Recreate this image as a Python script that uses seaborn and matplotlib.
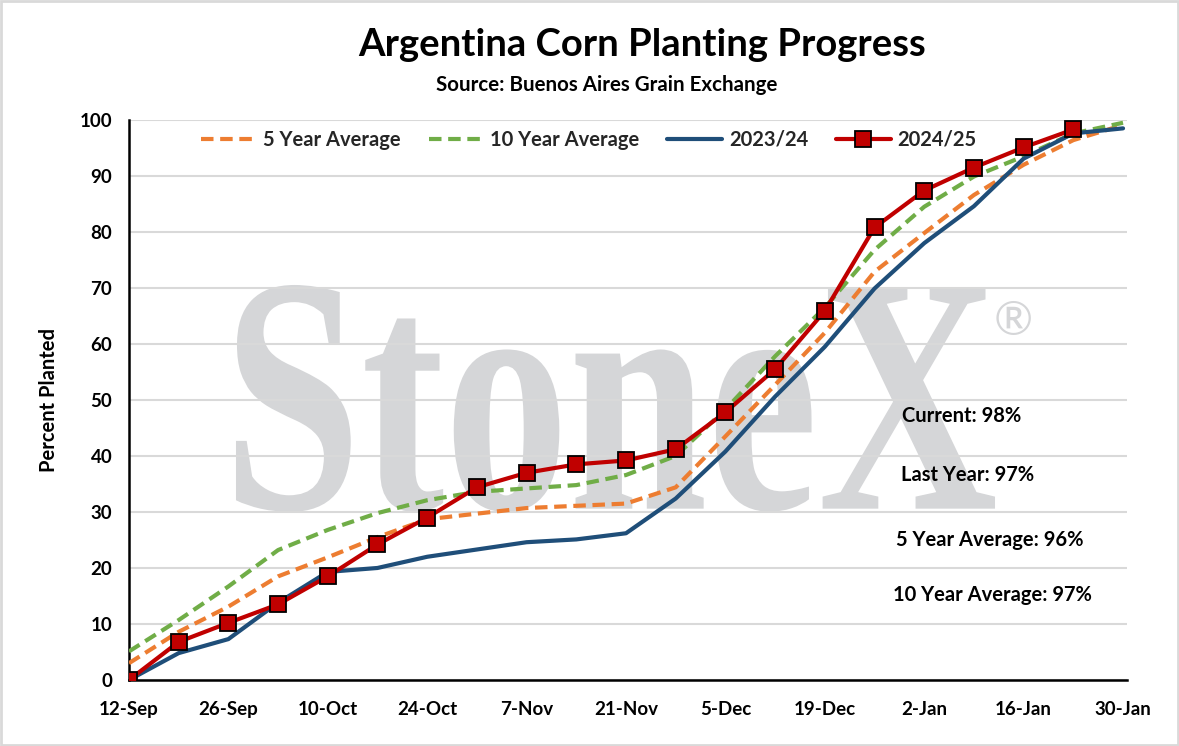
import matplotlib
matplotlib.use("Agg")
import matplotlib.pyplot as plt
import seaborn as sns
import pandas as pd
from matplotlib.textpath import TextPath
from matplotlib.patches import PathPatch, Rectangle
from matplotlib.font_manager import FontProperties
from matplotlib.transforms import Affine2D

# weekly dates, 12-Sep to 30-Jan
dates = ["12-Sep", "19-Sep", "26-Sep", "3-Oct", "10-Oct", "17-Oct", "24-Oct",
         "31-Oct", "7-Nov", "14-Nov", "21-Nov", "28-Nov", "5-Dec", "12-Dec",
         "19-Dec", "26-Dec", "2-Jan", "9-Jan", "16-Jan", "23-Jan", "30-Jan"]

avg_5yr = [3.0, 8.6, 13.1, 18.5, 21.9, 25.5, 28.7, 29.7, 30.7, 31.1, 31.5,
           34.4, 43.5, 52.7, 62.0, 72.9, 79.8, 86.6, 92.0, 96.4, 99.1]
avg_10yr = [5.1, 10.7, 16.7, 23.2, 26.8, 29.8, 32.1, 33.6, 34.2, 34.8, 36.6,
            40.0, 48.3, 57.8, 66.5, 76.8, 84.5, 89.9, 93.5, 97.6, 99.5]
season_2324 = [0.0, 4.8, 7.3, 13.8, 19.3, 20.0, 22.0, 23.3, 24.6, 25.1, 26.2,
               32.4, 40.8, 50.6, 59.5, 69.9, 78.0, 84.6, 93.1, 97.6, 98.5]
season_2425 = [0.0, 6.8, 10.2, 13.5, 18.5, 24.2, 29.0, 34.4, 37.0, 38.5, 39.2,
               41.2, 47.8, 55.5, 65.9, 80.8, 87.4, 91.5, 95.1, 98.3]

notes = ["Current: 98%", "Last Year: 97%", "5 Year Average: 96%", "10 Year Average: 97%"]

week = list(range(len(dates)))

sns.set_style("whitegrid")
plt.rcParams["font.family"] = ["Lato", "DejaVu Sans"]
plt.rcParams["font.weight"] = "bold"

fig = plt.figure(figsize=(11.79, 7.46), dpi=100)
ax = fig.add_axes([0.1094, 0.0885, 0.8465, 0.7507])

# watermark
tp = TextPath((0, 0), "StoneX", size=100, prop=FontProperties(family="Liberation Serif"))
bb = tp.get_extents()
x0, x1 = (236 - 129) / 998, (995 - 129) / 998
y0, y1 = (680 - 512) / 560, (680 - 285) / 560
tr = Affine2D().translate(-bb.x0, -bb.y0).scale((x1 - x0) / bb.width, (y1 - y0) / bb.height).translate(x0, y0)
ax.add_patch(PathPatch(tr.transform_path(tp), transform=ax.transAxes,
                       facecolor="#d5d6d8", edgecolor="none", zorder=0.1))
ax.text(0.886, 0.639, "®", transform=ax.transAxes, fontsize=34, color="#d5d6d8",
        fontweight="normal", ha="center", va="center", zorder=0.1)

sns.lineplot(x=week, y=avg_5yr, ax=ax, color="#ED7D31", lw=3, linestyle=(0, (3, 1.6)),
             label="5 Year Average", zorder=3)
sns.lineplot(x=week, y=avg_10yr, ax=ax, color="#70AD47", lw=3, linestyle=(0, (3, 1.6)),
             label="10 Year Average", zorder=3)
sns.lineplot(x=week, y=season_2324, ax=ax, color="#1F4E79", lw=3,
             label="2023/24", zorder=4)
sns.lineplot(x=week[:len(season_2425)], y=season_2425, ax=ax, color="#C00000", lw=3,
             marker="s", markersize=11, markerfacecolor="#C00000",
             markeredgecolor="black", markeredgewidth=1.3,
             label="2024/25", zorder=5)

ax.set_xlim(0, 20.08)
ax.set_ylim(0, 100)
ax.set_xticks(week[::2])
ax.set_xticklabels(dates[::2])
ax.set_yticks(range(0, 101, 10))
ax.tick_params(axis="both", direction="out", length=5, width=1.5, color="black",
               labelsize=13.5, labelcolor="black")
ax.tick_params(axis="x", pad=10)
ax.tick_params(axis="y", pad=7)
for lab in ax.get_xticklabels() + ax.get_yticklabels():
    lab.set_fontweight("bold")

ax.grid(axis="x", visible=False)
ax.grid(axis="y", color="#d9d9d9", lw=1.5)
for s in ["top", "right"]:
    ax.spines[s].set_visible(False)
for s in ["left", "bottom"]:
    ax.spines[s].set_color("black")
    ax.spines[s].set_linewidth(1.8)

ax.set_xlabel("")
ax.set_ylabel("Percent Planted", fontsize=14.5, fontweight="bold", color="black", labelpad=15)

ax.legend(loc="upper center", bbox_to_anchor=(0.461, 1.015), ncol=4, frameon=False,
          handlelength=2.7, columnspacing=1.4, handletextpad=0.35,
          prop={"weight": "bold", "size": 14.5})

note_pos = [(962, 416), (968, 475), (990, 540), (992, 595)]
for txt, (px, py) in zip(notes, note_pos):
    fig.text(px / 1179, 1 - py / 746, txt, ha="center", va="center",
             fontsize=14.5, fontweight="bold", color="black")

fig.text(642 / 1179, 1 - 45 / 746, "Argentina Corn Planting Progress", ha="center",
         va="center", fontsize=27.5, fontweight="bold", color="black")
fig.text(607 / 1179, 1 - 85 / 746, "Source: Buenos Aires Grain Exchange", ha="center",
         va="center", fontsize=14.8, fontweight="bold", color="black")

fig.patches.append(Rectangle((0.001, 0.001), 0.998, 0.997, transform=fig.transFigure,
                             fill=False, edgecolor="#d9d9d9", lw=2))

fig.savefig("out.png", dpi=100)
